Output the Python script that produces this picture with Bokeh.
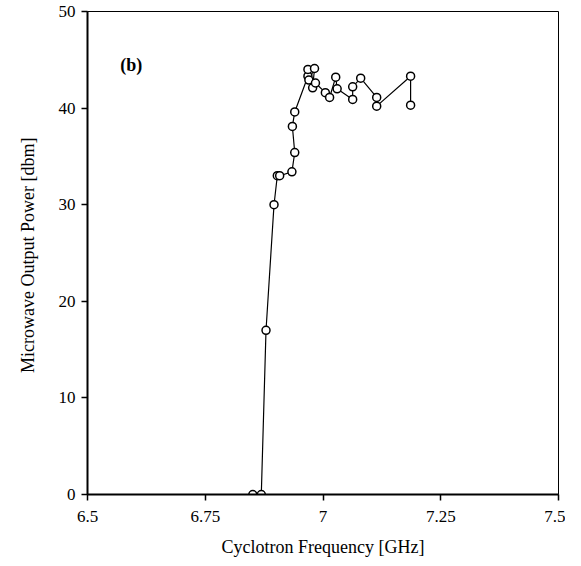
from bokeh.plotting import figure
from bokeh.embed import file_html
from bokeh.resources import INLINE
from bokeh.models import FixedTicker, Range1d, Label
from bokeh.core.properties import value

# Data
freq_ghz = [6.851, 6.869, 6.879, 6.896, 6.903, 6.908, 6.934, 6.940, 6.935, 6.940,
            6.968, 6.968, 6.970, 6.982, 6.978, 6.984, 7.005, 7.014, 7.027, 7.030,
            7.063, 7.063, 7.080, 7.114, 7.114, 7.186, 7.186]
power_dbm = [0.0, 0.0, 17.0, 30.0, 33.0, 33.0, 33.4, 35.4, 38.1, 39.6,
             43.3, 44.0, 42.9, 44.1, 42.1, 42.6, 41.6, 41.1, 43.2, 42.0,
             40.9, 42.2, 43.1, 41.1, 40.2, 43.3, 40.3]

x_ticks = [6.5, 6.75, 7.0, 7.25, 7.5]
x_tick_labels = {6.5: "6.5", 6.75: "6.75", 7.0: "7", 7.25: "7.25", 7.5: "7.5"}
y_ticks = [0, 10, 20, 30, 40, 50]

FONT = "Liberation Serif"

p = figure(width=565, height=563, output_backend="svg", toolbar_location=None,
           x_range=Range1d(6.5, 7.5), y_range=Range1d(0, 50),
           min_border_left=87, min_border_right=7, min_border_top=11, min_border_bottom=69)

p.grid.visible = False
p.background_fill_color = "white"
p.outline_line_color = "black"
p.outline_line_width = 1

for ax in (p.xaxis[0], p.yaxis[0]):
    ax.axis_line_color = "black"
    ax.axis_line_width = 2
    ax.major_tick_line_color = "black"
    ax.major_tick_line_width = 1.5
    ax.major_tick_out = 6
    ax.major_tick_in = 0
    ax.minor_tick_line_color = None
    ax.major_label_text_font = FONT
    ax.major_label_text_font_size = "17px"
    ax.major_label_text_color = "black"
    ax.axis_label_text_font = FONT
    ax.axis_label_text_font_size = "18px"
    ax.axis_label_text_font_style = "normal"
    ax.axis_label_text_color = "black"

p.xaxis.ticker = FixedTicker(ticks=x_ticks)
p.xaxis.major_label_overrides = x_tick_labels
p.yaxis.ticker = FixedTicker(ticks=y_ticks)
p.xaxis.axis_label = "Cyclotron Frequency [GHz]"
p.yaxis.axis_label = "Microwave Output Power  [dbm]"
p.xaxis.major_label_standoff = 10
p.xaxis.axis_label_standoff = 12
p.yaxis.major_label_standoff = 6
p.yaxis.axis_label_standoff = 18

p.line(freq_ghz, power_dbm, line_color="black", line_width=1.2)
p.scatter(freq_ghz, power_dbm, marker="circle", size=8, fill_color="white",
          line_color="black", line_width=1.5)

p.add_layout(Label(x=6.593, y=44.5, text="(b)", text_font=FONT, text_font_size="18px",
                   text_font_style="bold", text_align="center", text_baseline="middle",
                   text_color="black"))

open("out.html", "w").write(file_html(p, INLINE))
